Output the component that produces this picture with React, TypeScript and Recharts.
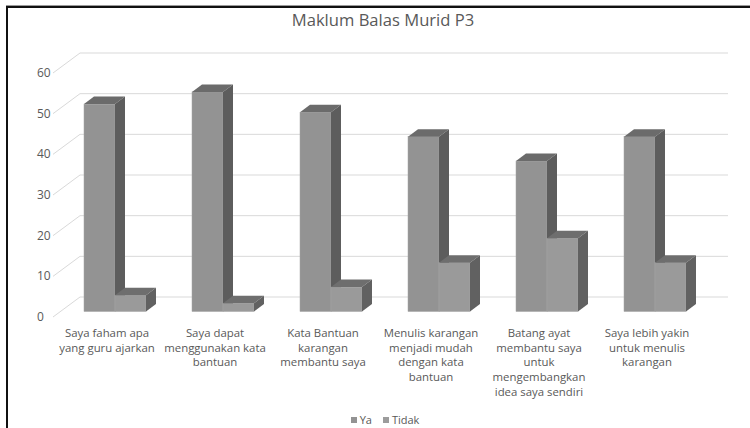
import React from 'react';
import { BarChart, Bar, XAxis, YAxis, CartesianGrid, Legend } from 'recharts';

const title = 'Maklum Balas Murid P3';
const categories = [
  'Saya faham apa\nyang guru ajarkan',
  'Saya dapat\nmenggunakan kata\nbantuan',
  'Kata Bantuan\nkarangan\nmembantu saya',
  'Menulis karangan\nmenjadi mudah\ndengan kata\nbantuan',
  'Batang ayat\nmembantu saya\nuntuk\nmengembangkan\nidea saya sendiri',
  'Saya lebih yakin\nuntuk menulis\nkarangan',
];
const yaValues = [51, 54, 49, 43, 37, 43];
const tidakValues = [4, 2, 6, 12, 18, 12];
const yTicks = [0, 10, 20, 30, 40, 50, 60];
const seriesNames = ['Ya', 'Tidak'];

const data = categories.map((c, i) => ({ name: c, ya: yaValues[i], tidak: tidakValues[i] }));

const FONT = '"Open Sans", sans-serif';
const TEXT = '#595959';
// 3D depth offsets
const DX = 10;
const DY = 7.5;
const WALL_DX = 19;
const WALL_DY = 14.5;
const FRONT_DX = -8;
const FRONT_DY = 5.5;

const makeBar = (front: string, top: string, side: string) => (props: any) => {
  const { x, y, width, height } = props;
  if (height == null || width == null) return <g />;
  return (
    <g>
      <rect x={x} y={y} width={width} height={height} fill={front} stroke="#a4a4a4" strokeWidth={0.5} />
      <polygon
        points={`${x},${y} ${x + DX},${y - DY} ${x + width + DX},${y - DY} ${x + width},${y}`}
        fill={top}
      />
      <polygon
        points={`${x + width},${y} ${x + width + DX},${y - DY} ${x + width + DX},${y + height - DY} ${x + width},${y + height}`}
        fill={side}
      />
    </g>
  );
};

const gridLine = (p: any) => {
  const { x1, x2, y1, key } = p;
  return (
    <g key={key}>
      <line x1={x1 + WALL_DX} x2={x2 + WALL_DX} y1={y1 - WALL_DY} y2={y1 - WALL_DY} stroke="#d9d9d9" strokeWidth={1} />
      <line x1={x1 + FRONT_DX} y1={y1 + FRONT_DY} x2={x1 + WALL_DX} y2={y1 - WALL_DY} stroke="#d9d9d9" strokeWidth={1} />
    </g>
  );
};

const YTick = (props: any) => {
  const { y, payload } = props;
  return (
    <text x={37} y={y + FRONT_DY} dy={4} textAnchor="start" fontSize={12} fontFamily={FONT} fill={TEXT}>
      {payload.value}
    </text>
  );
};

const XTick = (props: any) => {
  const { x, y, payload } = props;
  const lines = String(payload.value).split('\n');
  return (
    <text x={x + FRONT_DX} y={y} textAnchor="middle" fontSize={11.4} fontFamily={FONT} fill={TEXT}>
      {lines.map((l, i) => (
        <tspan key={i} x={x + FRONT_DX} dy={i === 0 ? 25.5 : 14.7}>
          {l}
        </tspan>
      ))}
    </text>
  );
};

const LegendContent = (props: any) => {
  const payload = [...(props.payload || [])].sort(
    (a: any, b: any) => seriesNames.indexOf(a.value) - seriesNames.indexOf(b.value)
  );
  return (
    <div style={{ position: 'relative', height: 16, fontSize: 11, fontFamily: FONT, color: TEXT, textAlign: 'center', lineHeight: '16px', whiteSpace: 'nowrap' }}>
      {payload.map((e: any, i: number) => (
        <span key={i} style={{ marginRight: i === 0 ? 11 : 0 }}>
          <span style={{ display: 'inline-block', width: 6, height: 6, background: e.color, marginRight: 3, verticalAlign: 'middle', position: 'relative', top: -1 }} />
          {e.value}
        </span>
      ))}
    </div>
  );
};

export default function App() {
  return (
    <div style={{ position: 'relative', width: 750, height: 428, background: '#fff', overflow: 'hidden' }}>
      <style>{'html,body{margin:0;padding:0;}'}</style>
      <div
        style={{
          position: 'absolute',
          left: 0,
          width: 766,
          top: 8,
          textAlign: 'center',
          fontFamily: FONT,
          fontSize: 16.6,
          color: TEXT,
        }}
      >
        {title}
      </div>
      <div style={{ position: 'absolute', left: 0, top: 0 }}>
        <BarChart
          width={750}
          height={428}
          data={data}
          barGap={0}
          margin={{ top: 67.5, right: 41, left: 31, bottom: 80.5 }}
        >
          <CartesianGrid vertical={false} horizontal={gridLine} />
          <XAxis dataKey="name" axisLine={false} tickLine={false} tickSize={0} tickMargin={0} height={20} interval={0} tick={<XTick />} />
          <YAxis domain={[0, 60]} ticks={yTicks} axisLine={false} tickLine={false} width={30} tick={<YTick />} />
          <Legend
            verticalAlign="bottom"
            itemSorter={null as any}
            content={<LegendContent />}
            wrapperStyle={{ top: 412, bottom: 'auto', left: 0, width: 770, height: 16 }}
          />
          <Bar dataKey="ya" name={seriesNames[0]} fill="#939393" barSize={31} isAnimationActive={false} shape={makeBar('#939393', '#6b6b6b', '#5d5d5d')} />
          <Bar dataKey="tidak" name={seriesNames[1]} fill="#9c9c9c" barSize={31} isAnimationActive={false} shape={makeBar('#9a9a9a', '#6e6e6e', '#616161')} />
        </BarChart>
      </div>
      <div style={{ position: 'absolute', left: 6, top: 5, width: 800, height: 1, background: '#9a9a9a', zIndex: 5, pointerEvents: 'none' }} />
      <div style={{ position: 'absolute', left: 6, top: 6, width: 800, height: 2, background: '#111', zIndex: 5, pointerEvents: 'none' }} />
      <div style={{ position: 'absolute', left: 6, top: 6, width: 2, height: 500, background: '#111', zIndex: 5, pointerEvents: 'none' }} />
    </div>
  );
}
